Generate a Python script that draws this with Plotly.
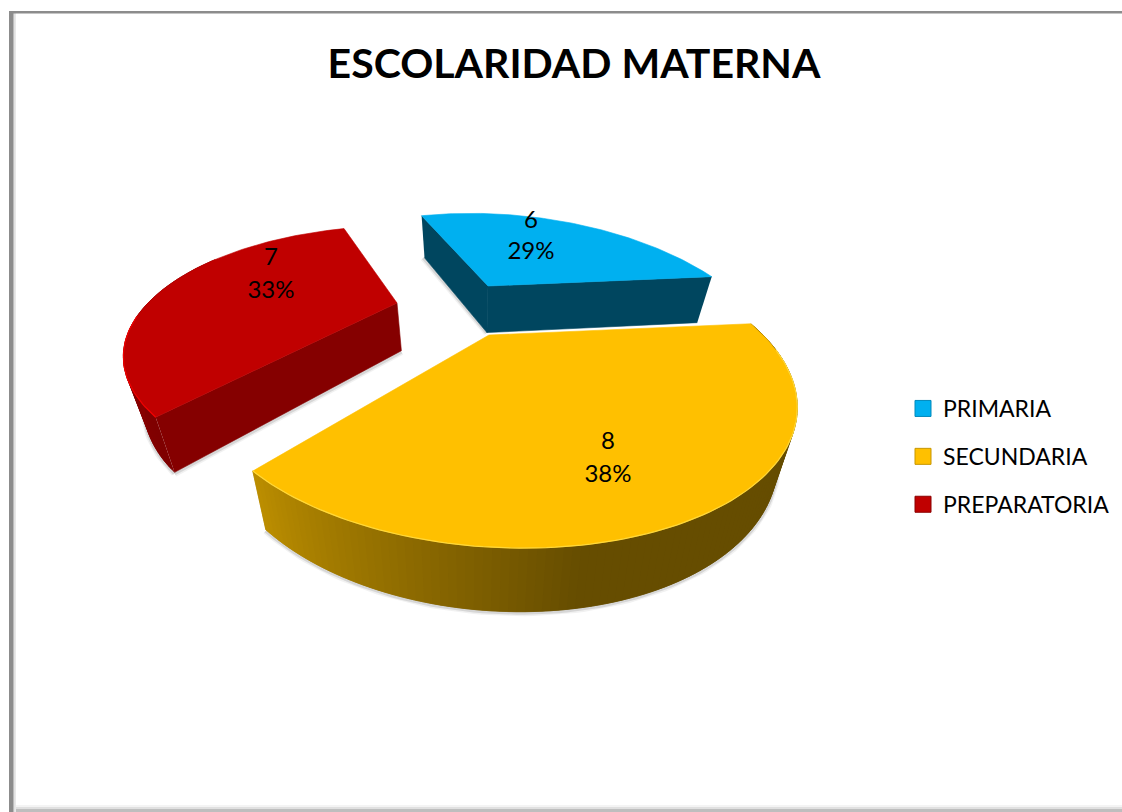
import numpy as np
import plotly.graph_objects as go

# ---- data ----
categories = ["PRIMARIA", "SECUNDARIA", "PREPARATORIA"]
values = [6, 8, 7]
title_text = "ESCOLARIDAD MATERNA"

# ---- styling (pixel-space view of the tilted pie) ----
W, H = 1122, 812
top_colors = {"PRIMARIA": "#00B0F0", "SECUNDARIA": "#FFC000", "PREPARATORIA": "#C00000"}
cut_colors = {"PRIMARIA": "#00465F", "SECUNDARIA": "#B08600", "PREPARATORIA": "#850000"}
rim_colors = {"PRIMARIA": "#00B0F0", "SECUNDARIA": "#FFD83A", "PREPARATORIA": "#F00000"}
legend_edge = {"PRIMARIA": "#0089BB", "SECUNDARIA": "#C79600", "PREPARATORIA": "#8A0000"}
view = {
    "PRIMARIA": dict(ax=488, ay=286, rx=237, ry=109, k=0.50, shear=26),
    "SECUNDARIA": dict(ax=489, ay=335, rx=274, ry=130, k=0.39, shear=21),
    "PREPARATORIA": dict(ax=397, ay=303, rx=249, ry=108, k=0.40, shear=-4),
}
label_pos = {"PRIMARIA": (531, 222, 253), "SECUNDARIA": (608, 443, 476), "PREPARATORIA": (271, 259, 292)}
start_deg = 252.0
total = sum(values)


def project(name, t):
    v = view[name]
    s, c = np.sin(t), np.cos(t)
    d = 1 - v["k"] * s
    return v["ax"] + (v["rx"] * c + v["shear"] * s) / d, v["ay"] + v["ry"] * s / d


def drop(x, y):
    return x - (x - 470) * 0.06, y + 28 + 0.065 * y


spans = {}
a = start_deg
for n, val in zip(categories, values):
    spans[n] = (a, a + val / total * 360)
    a += val / total * 360

fig = go.Figure()


def poly(x, y, color, line=None, width=0):
    fig.add_trace(go.Scatter(x=list(x), y=list(y), mode="lines", fill="toself", fillcolor=color,
                             line=dict(color=line or color, width=width or 0.6),
                             hoverinfo="skip", showlegend=False))


def curve(x, y, color, width):
    fig.add_trace(go.Scatter(x=list(x), y=list(y), mode="lines", line=dict(color=color, width=width),
                             hoverinfo="skip", showlegend=False))


def lerp_hex(h1, h2, f):
    a1 = [int(h1[i:i + 2], 16) for i in (1, 3, 5)]
    a2 = [int(h2[i:i + 2], 16) for i in (1, 3, 5)]
    return "#" + "".join(f"{round(p + (q - p) * f):02X}" for p, q in zip(a1, a2))


def draw_slice(name):
    a0, a1 = spans[name]
    ts = np.radians(np.linspace(a0, a1, 120))
    px, py = project(name, ts)
    v = view[name]
    axx, ayy = v["ax"], v["ay"]
    bx, by = drop(px, py)
    abx, aby = drop(np.array([axx]), np.array([ayy]))
    abx, aby = abx[0], aby[0]

    # soft drop shadow
    for w, col in ((7, "rgba(120,120,120,0.10)"), (4, "rgba(110,110,110,0.20)")):
        if name == "SECUNDARIA":
            curve(bx[8:], by[8:] + 1, col, w)
        if name == "PREPARATORIA":
            curve([bx[0], abx], [by[0] + 1, aby + 1], col, w)
            curve(bx[:60], by[:60] + 1, col, w)
        if name == "PRIMARIA":
            curve([bx[0] - 1, abx], [by[0], aby], col, w)

    # cut faces that face the viewer
    if name == "PRIMARIA":
        poly([px[0], axx, abx, bx[0]], [py[0], ayy, aby, by[0]], cut_colors[name])
        poly([px[-1], axx, abx, bx[-1]], [py[-1], ayy, aby, by[-1]], cut_colors[name])
    if name == "PREPARATORIA":
        poly([px[0], axx, abx, bx[0]], [py[0], ayy, aby, by[0]], cut_colors[name])

    # curved wall, shaded band by band
    if name in ("SECUNDARIA", "PREPARATORIA"):
        n_pts = len(ts)
        for i in range(n_pts - 1):
            if np.sin(ts[i]) <= -0.45:
                continue
            i2 = min(i + 2, n_pts - 1)
            deg = np.degrees(ts[i]) % 360
            if name == "SECUNDARIA":
                f = float(np.clip((132 - deg) / 50, 0, 1)) if deg < 180 else 1.0
                col = lerp_hex("#BD8F00", "#664D00", f)
            else:
                col = lerp_hex("#7F0000", "#980000", float(np.clip((deg - 134) / 50, 0, 1)))
            poly(list(px[i:i2 + 1]) + list(bx[i:i2 + 1][::-1]),
                 list(py[i:i2 + 1]) + list(by[i:i2 + 1][::-1]), col)

    # top face
    poly([axx] + list(px) + [axx], [ayy] + list(py) + [ayy], top_colors[name])
    # light rim along the near edge
    mask = np.sin(ts) > 0.1
    if name != "PRIMARIA":
        curve(px[mask], py[mask], rim_colors[name], 1.2)


for name in ("PREPARATORIA", "PRIMARIA", "SECUNDARIA"):
    draw_slice(name)

# value and percentage labels
for n, val in zip(categories, values):
    lx, ly1, ly2 = label_pos[n]
    fig.add_trace(go.Scatter(x=[lx, lx], y=[ly1, ly2], mode="text",
                             text=[str(val), f"{round(val / total * 100)}%"],
                             textposition="middle center",
                             textfont=dict(family="Lato, Carlito, sans-serif", size=24, color="#000000"),
                             hoverinfo="skip", showlegend=False))

# legend entries
for n in categories:
    fig.add_trace(go.Scatter(x=[None], y=[None], mode="markers", name=n, legendgroup=n,
                             marker=dict(symbol="square", size=16, color=top_colors[n],
                                         line=dict(color=legend_edge[n], width=1))))

# chart-area frame
frame = []
for x0, x1, c in ((9, 13, "#8C8C8C"), (13, 14.5, "#BBBBBB"), (14.5, 16, "#E8E8E8")):
    frame.append(dict(type="rect", xref="x", yref="y", x0=x0, x1=x1, y0=11, y1=H, fillcolor=c, line_width=0, layer="below"))
frame.append(dict(type="rect", xref="x", yref="y", x0=9, x1=W, y0=11, y1=13.5, fillcolor="#8C8C8C", line_width=0, layer="below"))
for y0, y1, c in ((805, 807, "#F4F4F4"), (807, 809, "#E0E0E0"), (809, 812, "#BEBEBE")):
    frame.append(dict(type="rect", xref="x", yref="y", x0=16, x1=W, y0=y0, y1=y1, fillcolor=c, line_width=0, layer="below"))

fig.update_layout(
    width=W, height=H, autosize=False,
    margin=dict(l=0, r=0, t=0, b=0),
    paper_bgcolor="#FFFFFF", plot_bgcolor="#FFFFFF",
    xaxis=dict(range=[0, W], visible=False, fixedrange=True),
    yaxis=dict(range=[H, 0], visible=False, fixedrange=True),
    shapes=frame,
    title=dict(text=f"<b>{title_text}</b>", x=574 / W, xanchor="center", y=1 - 64 / H, yanchor="middle",
               font=dict(family="Lato, Carlito, sans-serif", size=41, color="#000000")),
    legend=dict(x=903 / W, y=1 - 387 / H, xanchor="left", yanchor="top", tracegroupgap=15,
                bgcolor="rgba(0,0,0,0)", itemclick=False, itemdoubleclick=False,
                font=dict(family="Lato, Carlito, sans-serif", size=23, color="#000000")),
)

fig.write_html("out.html", config={"displayModeBar": False},
               post_script="document.body.style.margin='0';document.documentElement.style.overflow='hidden';")
